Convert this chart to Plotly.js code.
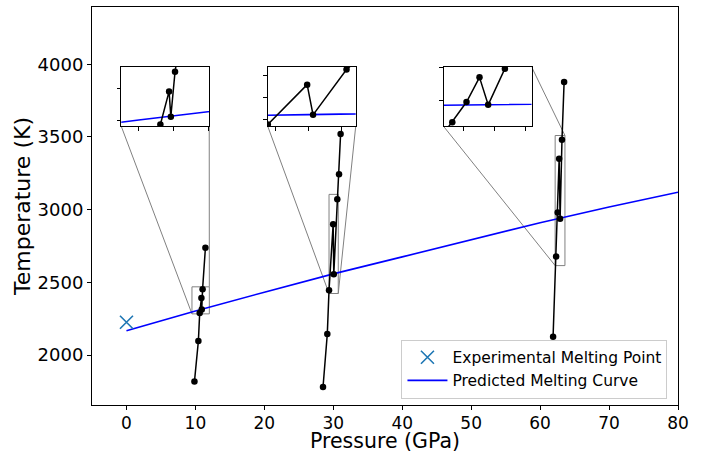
<!DOCTYPE html>
<html><head><meta charset="utf-8">
<script src="https://cdn.plot.ly/plotly-3.0.1.min.js"></script>
<style>html,body{margin:0;padding:0;background:#fff}</style>
</head><body>
<div id="chart" style="width:706px;height:453px"></div>
<script>
// ---- data ----
const seriesA_P = [9.86, 10.43, 10.62, 10.87, 10.92, 11.04, 11.45];
const seriesA_T = [1817, 2096, 2289, 2392, 2313, 2453, 2737];
const seriesB_P = [28.51, 29.13, 29.38, 29.98, 30.07, 30.58, 30.83, 31.06];
const seriesB_T = [1780, 2144, 2445, 2900, 2555, 3072, 3244, 3521];
const seriesC_P = [61.88, 62.32, 62.55, 62.76, 62.90, 63.17, 63.48];
const seriesC_T = [2126, 2678, 2980, 3350, 2938, 3480, 3878];
const curveP = [0, 10, 20, 30, 40, 50, 60, 70, 80];
const curveT = [2167, 2303, 2432, 2558, 2675, 2790, 2910, 3018, 3120];
const expP = [0];
const expT = [2225];
const xTickVals = [0, 10, 20, 30, 40, 50, 60, 70, 80];
const yTickVals = [2000, 2500, 3000, 3500, 4000];
const legendNames = ['Experimental Melting Point', 'Predicted Melting Curve'];

// ---- layout configuration ----
const mainX = [-5, 80];
const mainY = [1656, 4394];
// link: which corner pair the second connector joins ('ur' = upper right, 'lr' = lower right)
const insets = [
  {P: seriesA_P, T: seriesA_T, xr: [9.5, 12.02], yr: [2283, 2469], xt: [10, 11, 12], yt: [2300, 2400], dx: [0.05, 0.20], dy: [0.70, 0.85], link: 'ur'},
  {P: seriesB_P, T: seriesB_T, xr: [29.38, 30.72], yr: [2423, 3105], xt: [29.5, 30, 30.5], yt: [2500, 2750, 3000], dx: [0.30, 0.45], dy: [0.70, 0.85], link: 'lr'},
  {P: seriesC_P, T: seriesC_T, xr: [62.18, 63.60], yr: [2615, 3510], xt: [62.5, 63, 63.5], yt: [3000, 3500], dx: [0.60, 0.75], dy: [0.70, 0.85], link: 'ur'}
];

const FONT = 'DejaVu Sans, Verdana, sans-serif';
const BLACK_LINE = {color: '#000000', width: 1.5};
const BLACK_MARK = {color: '#000000', size: 6.5};
const BLUE_LINE = {color: '#0000ff', width: 1.6};
const GRAY = '#808080';

const traces = [];
traces.push({x: curveP, y: curveT, mode: 'lines', line: BLUE_LINE, name: legendNames[1],
  xaxis: 'x', yaxis: 'y', legendrank: 2, legendgroup: 'b'});
[[seriesA_P, seriesA_T], [seriesB_P, seriesB_T], [seriesC_P, seriesC_T]].forEach(s => {
  traces.push({x: s[0], y: s[1], mode: 'lines+markers', line: BLACK_LINE, marker: BLACK_MARK,
    showlegend: false, xaxis: 'x', yaxis: 'y'});
});
traces.push({x: expP, y: expT, mode: 'markers', name: legendNames[0],
  marker: {symbol: 'x-thin-open', size: 13, color: '#1f77b4', line: {color: '#1f77b4', width: 1.6}},
  xaxis: 'x', yaxis: 'y', legendrank: 1, legendgroup: 'a'});

const layout = {
  width: 706, height: 453,
  margin: {l: 92, r: 28, t: 7, b: 48},
  paper_bgcolor: '#ffffff', plot_bgcolor: '#ffffff',
  font: {family: FONT, color: '#000000'},
  showlegend: true,
  legend: {x: 0.982, y: 0.016, xanchor: 'right', yanchor: 'bottom',
    bordercolor: '#cccccc', borderwidth: 1, bgcolor: 'rgba(255,255,255,0.8)', itemwidth: 40,
    font: {family: FONT, size: 15.5, color: '#000000'}, traceorder: 'grouped', tracegroupgap: 0},
  xaxis: {range: mainX, tickvals: xTickVals, ticks: 'outside', ticklen: 4, tickwidth: 1, tickcolor: '#000',
    showline: true, linecolor: '#000', linewidth: 1, mirror: true, showgrid: false, zeroline: false,
    tickfont: {family: FONT, size: 17, color: '#000'}, ticklabelstandoff: -1, automargin: false,
    title: {text: 'Pressure (GPa)', font: {family: FONT, size: 20.5, color: '#000'}}},
  yaxis: {range: mainY, tickvals: yTickVals, ticks: 'outside', ticklen: 4, tickwidth: 1, tickcolor: '#000',
    showline: true, linecolor: '#000', linewidth: 1, mirror: true, showgrid: false, zeroline: false,
    tickfont: {family: FONT, size: 18, color: '#000'},
    title: {text: 'Temperature (K)', font: {family: FONT, size: 22, color: '#000'}, standoff: 0}},
  shapes: []
};

const mx = f => mainX[0] + f * (mainX[1] - mainX[0]);
const my = f => mainY[0] + f * (mainY[1] - mainY[0]);

insets.forEach((ins, i) => {
  const n = i + 2;
  const xa = 'x' + n, ya = 'y' + n;
  layout['xaxis' + n] = {domain: ins.dx, anchor: ya, range: ins.xr, tickvals: ins.xt, ticks: 'outside',
    ticklen: 3.5, tickwidth: 1, tickcolor: '#000', showticklabels: false, showline: true, linecolor: '#000',
    linewidth: 1, mirror: true, showgrid: false, zeroline: false};
  layout['yaxis' + n] = {domain: ins.dy, anchor: xa, range: ins.yr, tickvals: ins.yt, ticks: 'outside',
    ticklen: 3.5, tickwidth: 1, tickcolor: '#000', showticklabels: false, showline: true, linecolor: '#000',
    linewidth: 1, mirror: true, showgrid: false, zeroline: false};
  traces.push({x: curveP, y: curveT, mode: 'lines', line: BLUE_LINE, showlegend: false, xaxis: xa, yaxis: ya});
  traces.push({x: ins.P, y: ins.T, mode: 'lines+markers', line: BLACK_LINE, marker: BLACK_MARK,
    showlegend: false, xaxis: xa, yaxis: ya});

  const iL = mx(ins.dx[0]), iR = mx(ins.dx[1]), iB = my(ins.dy[0]), iT = my(ins.dy[1]);
  layout.shapes.push({type: 'line', xref: 'x', yref: 'y', layer: 'below', x0: iL, y0: iB, x1: ins.xr[0], y1: ins.yr[0],
    line: {color: GRAY, width: 1}});
  const upper = ins.link === 'ur';
  layout.shapes.push({type: 'line', xref: 'x', yref: 'y', layer: 'below', x0: iR, y0: upper ? iT : iB,
    x1: ins.xr[1], y1: upper ? ins.yr[1] : ins.yr[0], line: {color: GRAY, width: 1}});
  layout.shapes.push({type: 'rect', xref: 'x', yref: 'y', layer: 'below', x0: ins.xr[0], y0: ins.yr[0], x1: ins.xr[1], y1: ins.yr[1],
    line: {color: GRAY, width: 1}, fillcolor: 'rgba(0,0,0,0)'});
  layout.shapes.push({type: 'rect', xref: 'x', yref: 'y', layer: 'below', x0: iL, y0: iB, x1: iR, y1: iT,
    line: {width: 0}, fillcolor: '#ffffff'});
});

Plotly.newPlot('chart', traces, layout, {displayModeBar: false, staticPlot: true});
</script>
</body></html>
